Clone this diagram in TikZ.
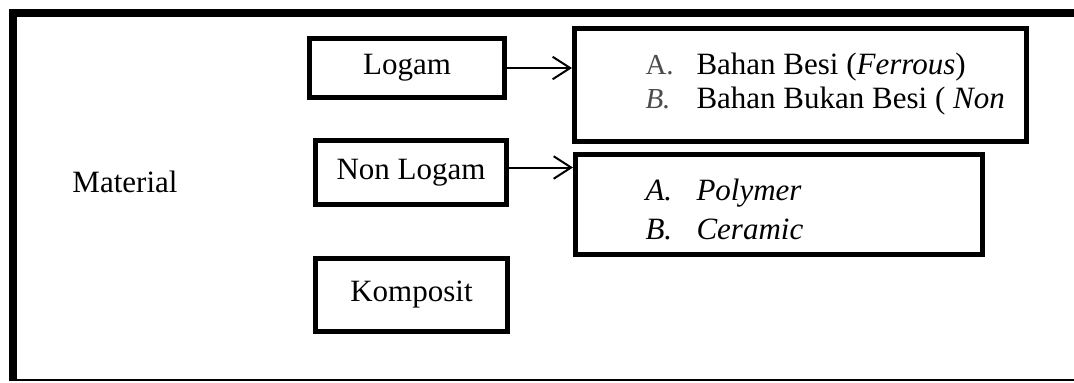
\documentclass[tikz,border=0pt]{standalone}
\usepackage{fontspec}
\setmainfont{Liberation Serif}
\usetikzlibrary{arrows.meta}

\begin{document}
\begin{tikzpicture}[x=0.4pt, y=-0.4pt, every node/.style={font=\fontsize{12.4}{14}\selectfont}, >={Straight Barb[length=7pt,width=9pt]}]
    \def\px{0.4pt} % one pixel of the picture
    \tikzset{
        matbox/.style={draw, line width=5*\px, inner sep=0pt},
        itemtext/.style={anchor=base west, inner sep=0pt},
        greylabel/.style={itemtext, text=black!70, font=\fontsize{11.6}{13}\selectfont}
    }
    \useasboundingbox (0,0) rectangle (1074,382);

    % Outer frame
    \draw[line width=8*\px] (1074,13) -- (13,13) -- (13,381);
    \draw[line width=2.5*\px] (13,380) -- (1074,380);

    % Main nodes
    \node (material) at (125,182) {Material};
    \node[matbox, minimum width=195*\px, minimum height=59*\px] (logam) at (407,68) {Logam};
    \node[matbox, minimum width=191*\px, minimum height=64*\px] (nonlogam) at (411,172.5) {Non Logam};
    \node[matbox, minimum width=192*\px, minimum height=73*\px] (komposit) at (411.5,295) {Komposit};

    % Lists
    \node[matbox, minimum width=452*\px, minimum height=113*\px] (logamlist) at (800.5,85) {};
    \node[matbox, minimum width=407*\px, minimum height=100*\px] (nonlist) at (779,204.5) {};

    \node[greylabel] (logam-a) at (645,74) {A.};
    \node[itemtext] (logam-1) at (696,74) {Bahan Besi (\textit{Ferrous})};
    \node[greylabel] (logam-b) at (645,108) {\textit{B.}};
    \node[itemtext] (logam-2) at (696,108) {Bahan Bukan Besi ( \textit{Non}};

    \node[itemtext] (non-a) at (645,200) {\textit{A.}};
    \node[itemtext] (non-1) at (696,200) {\textit{Polymer}};
    \node[itemtext] (non-b) at (645,239) {\textit{B.}};
    \node[itemtext] (non-2) at (696,239) {\textit{Ceramic}};

    % Arrows
    \draw[->, line width=2*\px] (logam.east) -- (logam.east -| logamlist.west);
    \draw[->, line width=2*\px] ([yshift=2pt]nonlogam.east) -- ([yshift=2pt]nonlogam.east -| nonlist.west);
\end{tikzpicture}
\end{document}
